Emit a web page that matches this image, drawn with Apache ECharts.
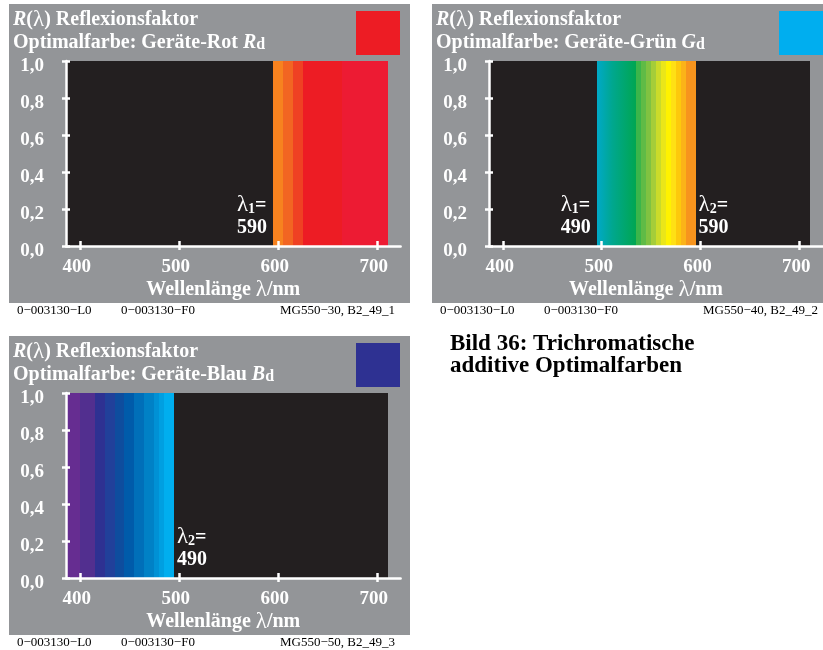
<!DOCTYPE html>
<html><head><meta charset="utf-8">
<script src="https://cdn.jsdelivr.net/npm/echarts@6/dist/echarts.min.js"></script>
<style>html,body{margin:0;padding:0;background:#fff}#c{width:823px;height:650px}</style>
</head><body><div id="c"></div>
<script>
// ---------- data ----------
const xTickValues = [400, 500, 600, 700];
const yStep = 0.2;
const spectrum = [386, 711];          // plotted wavelength range (nm)
const xRange = [386, 724];
const reflectMax = 1.0;

// Geräte-Rot: band edges (nm)
const redEdges = [595, 605, 615, 625, 665, 711];
const redLambda1 = 590;
// Geräte-Grün
const greenEdges = [495, 535, 540, 545, 550, 555, 560, 565, 570, 575, 580, 585, 595];
const greenLambda1 = 490, greenLambda2 = 590;
// Geräte-Blau
const blueEdges = [386, 400, 415, 425, 435, 445, 455, 465, 475, 480, 485, 495];
const blueLambda2 = 490;

// ---------- styles ----------
const redColors = ['#f7821f', '#f26522', '#ef4123', '#ed1c24', '#ed1b33'];
const greenColors = [['#00a9c8', '#00a78e', '#00a651'], '#3bb54a', '#5fbb46', '#80c241', '#a5cd39', '#cbdb2a',
  '#eae619', '#fff200', '#ffe014', '#fdc90c', '#fbb318', '#f7941d'];
const blueColors = ['#662d91', '#522f8f', '#2e3192', '#21409a', '#0e4d9e', '#005baa', '#006fb9', '#0081c6',
  '#0091d5', '#009fe1', '#00aeef'];

const FONT = '"Liberation Serif","Times New Roman",serif';
const GRAY = '#939598', BLACK = '#231f20', WHITE = '#ffffff';

const panels = [
  {dx: 0, dy: 0, name: 'Rot', sym: 'R', swatch: '#ed1c24', edges: redEdges, colors: redColors,
   labels: [{k: 1, v: redLambda1, side: 'low'}], code: 'MG550\u221230, B2_49_1'},
  {dx: 423, dy: 0, name: 'Grün', sym: 'G', swatch: '#00aeef', edges: greenEdges, colors: greenColors,
   labels: [{k: 1, v: greenLambda1, side: 'low'}, {k: 2, v: greenLambda2, side: 'high'}], code: 'MG550\u221240, B2_49_2'},
  {dx: 0, dy: 332, name: 'Blau', sym: 'B', swatch: '#2e3192', edges: blueEdges, colors: blueColors,
   labels: [{k: 2, v: blueLambda2, side: 'high'}], code: 'MG550\u221250, B2_49_3'}
];

const chart = echarts.init(document.getElementById('c'), null, {renderer: 'canvas'});
const grids = [], xAxes = [], yAxes = [], series = [], graphics = [];
const PX_PER_NM = 0.99;
const labelY = 0.16;

const axisLineStyle = {color: WHITE, width: 2.5};
const tickFont = {color: WHITE, fontFamily: FONT, fontWeight: 'bold', fontSize: 19};

function makeFill(c) {
  if (Array.isArray(c)) {
    return new echarts.graphic.LinearGradient(0, 0, 1, 0,
      c.map((col, i) => ({offset: i / (c.length - 1) * 0.8 + (i === c.length - 1 ? 0.2 : 0), color: col})));
  }
  return c;
}

panels.forEach((p, k) => {
  const gw = (xRange[1] - xRange[0]) * PX_PER_NM;
  grids.push({left: 66 + p.dx, top: 61 + p.dy, width: gw, height: 185, containLabel: false});
  // main x axis
  xAxes.push({gridIndex: k, type: 'value', min: xRange[0], max: xRange[1], position: 'bottom', z: 5,
    axisLine: {show: true, onZero: false, lineStyle: axisLineStyle},
    axisTick: {show: true, length: 4, customValues: xTickValues, lineStyle: axisLineStyle},
    axisLabel: Object.assign({customValues: xTickValues, margin: 12, padding: [0, 6, 0, 0]}, tickFont),
    splitLine: {show: false},
    name: '{w|Wellenlänge }{l|λ}{w|/nm}', nameLocation: 'middle', nameGap: 32,
    nameTextStyle: {padding: [0, 20, 0, 0], rich: {
      w: {color: WHITE, fontFamily: FONT, fontWeight: 'bold', fontSize: 20, lineHeight: 24},
      l: {color: WHITE, fontFamily: FONT, fontWeight: 'normal', fontSize: 23, lineHeight: 24}}}
  });
  // inner ticks x
  xAxes.push({gridIndex: k, type: 'value', min: xRange[0], max: xRange[1], position: 'bottom', z: 5,
    axisLine: {show: false}, axisTick: {show: true, inside: true, length: 5, customValues: xTickValues, lineStyle: axisLineStyle},
    axisLabel: {show: false}, splitLine: {show: false}});
  yAxes.push({gridIndex: k, type: 'value', min: 0, max: reflectMax, interval: yStep, position: 'left', z: 5,
    axisLine: {show: true, onZero: false, lineStyle: axisLineStyle},
    axisTick: {show: true, length: 4, lineStyle: axisLineStyle},
    axisLabel: {margin: 22, formatter: v => '{a|' + v.toFixed(1).replace('.', ',') + '}',
      rich: {a: Object.assign({padding: [10, 0, 0, 0]}, tickFont)}},
    splitLine: {show: false}});
  yAxes.push({gridIndex: k, type: 'value', min: 0, max: reflectMax, interval: yStep, position: 'left', z: 5,
    axisLine: {show: false}, axisTick: {show: true, inside: true, length: 4, lineStyle: axisLineStyle},
    axisLabel: {show: false}, splitLine: {show: false}});

  const xi = 2 * k, yi = 2 * k;
  // black spectrum background
  series.push({type: 'custom', xAxisIndex: xi, yAxisIndex: yi, z: 1, silent: true,
    data: [[spectrum[0], spectrum[1]]],
    renderItem: (params, api) => {
      const a = api.coord([api.value(0), reflectMax]), b = api.coord([api.value(1), 0]);
      return {type: 'rect', shape: {x: Math.round(a[0]), y: a[1], width: Math.round(b[0]) - Math.round(a[0]), height: b[1] - a[1]},
        style: {fill: BLACK}};
    }});
  // bands
  const bandData = [];
  for (let i = 0; i < p.edges.length - 1; i++) bandData.push([p.edges[i], p.edges[i + 1]]);
  series.push({type: 'custom', xAxisIndex: xi, yAxisIndex: yi, z: 2, silent: true, data: bandData,
    renderItem: (params, api) => {
      const a = api.coord([api.value(0), reflectMax]), b = api.coord([api.value(1), 0]);
      const x0 = Math.round(a[0]), x1 = Math.round(b[0]);
      return {type: 'rect', shape: {x: x0, y: a[1], width: x1 - x0, height: b[1] - a[1]},
        style: {fill: makeFill(p.colors[params.dataIndex])}};
    }});
  // lambda labels
  const lo = p.edges[0], hi = p.edges[p.edges.length - 1];
  const labData = p.labels.map(l => [l.side === 'low' ? lo : hi, labelY, l.k, l.v, l.side === 'low' ? 0 : 1]);
  series.push({type: 'custom', xAxisIndex: xi, yAxisIndex: yi, z: 3, silent: true, data: labData,
    renderItem: (params, api) => {
      const pt = api.coord([api.value(0), api.value(1)]);
      const high = api.value(4) === 1;
      return {type: 'text', x: pt[0] + (high ? 3 : -36), y: pt[1],
        style: {text: '{l|λ}{s|' + api.value(2) + '}{b|=}\n{b|' + api.value(3) + '}',
          align: 'left', verticalAlign: 'middle', fill: WHITE,
          rich: {
            l: {fontFamily: FONT, fontSize: 23, fontWeight: 'normal', fill: WHITE, lineHeight: 22},
            s: {fontFamily: FONT, fontSize: 14, fontWeight: 'bold', fill: WHITE, lineHeight: 12, verticalAlign: 'bottom'},
            b: {fontFamily: FONT, fontSize: 20, fontWeight: 'bold', fill: WHITE, lineHeight: 22}
          }}};
    }});

  // panel decorations
  graphics.push({type: 'rect', z: -10, shape: {x: 9 + p.dx, y: 4 + p.dy, width: 401, height: 299}, style: {fill: GRAY}, silent: true});
  graphics.push({type: 'rect', z: 10, shape: {x: 356 + p.dx, y: 11 + p.dy, width: 44, height: 44}, style: {fill: p.swatch}, silent: true});
  graphics.push({type: 'text', z: 10, x: 13 + p.dx, y: 19.5 + p.dy, style: {
    text: '{i|R}{b|(}{l|λ}{b|) Reflexionsfaktor}', verticalAlign: 'middle', align: 'left', rich: {
      i: {fontFamily: FONT, fontSize: 20, fontWeight: 'bold', fontStyle: 'italic', fill: WHITE, lineHeight: 22},
      b: {fontFamily: FONT, fontSize: 20, fontWeight: 'bold', fill: WHITE, lineHeight: 22},
      l: {fontFamily: FONT, fontSize: 23, fontWeight: 'normal', fill: WHITE, lineHeight: 22}}}});
  graphics.push({type: 'text', z: 10, x: 13 + p.dx, y: 42.5 + p.dy, style: {
    text: '{b|Optimalfarbe: Geräte-' + p.name + ' }{i|' + p.sym + '}{s|d}', verticalAlign: 'middle', align: 'left', rich: {
      i: {fontFamily: FONT, fontSize: 20, fontWeight: 'bold', fontStyle: 'italic', fill: WHITE, lineHeight: 20},
      b: {fontFamily: FONT, fontSize: 20, fontWeight: 'bold', fill: WHITE, lineHeight: 20},
      s: {fontFamily: FONT, fontSize: 16, fontWeight: 'bold', fill: WHITE, lineHeight: 11, verticalAlign: 'bottom'}}}});
  // footer
  const fy = 311 + p.dy;
  const ff = {fontFamily: FONT, fontSize: 13, fill: '#000', verticalAlign: 'middle'};
  graphics.push({type: 'text', x: 17 + p.dx, y: fy, style: Object.assign({text: '0\u2212003130\u2212L0', align: 'left'}, ff)});
  graphics.push({type: 'text', x: 121 + p.dx, y: fy, style: Object.assign({text: '0\u2212003130\u2212F0', align: 'left'}, ff)});
  graphics.push({type: 'text', x: 395 + p.dx, y: fy, style: Object.assign({text: p.code, align: 'right'}, ff)});
});

// caption
const capStyle = {fontFamily: FONT, fontSize: 23, fontWeight: 'bold', fill: '#000', align: 'left', verticalAlign: 'middle'};
graphics.push({type: 'text', x: 450, y: 344, style: Object.assign({text: 'Bild 36: Trichromatische'}, capStyle)});
graphics.push({type: 'text', x: 450, y: 366, style: Object.assign({text: 'additive Optimalfarben'}, capStyle)});

chart.setOption({
  backgroundColor: '#ffffff',
  animation: false,
  grid: grids, xAxis: xAxes, yAxis: yAxes, series: series,
  graphic: {elements: graphics}
});
</script></body></html>
